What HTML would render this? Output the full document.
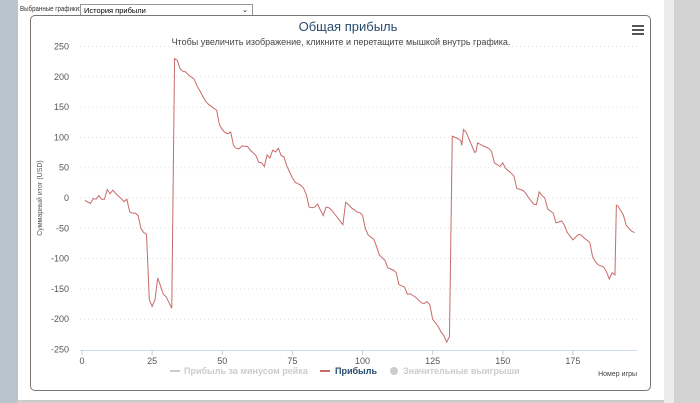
<!DOCTYPE html>
<html><head><meta charset="utf-8"><style>
body{margin:0;width:700px;height:403px;overflow:hidden;background:#d3d3d3;font-family:"Liberation Sans",sans-serif;position:relative}
#left{position:absolute;left:0;top:0;width:18px;height:403px;background:#b9c4cc}
#panel{position:absolute;left:18px;top:0;width:646px;height:400px;background:#fff;box-shadow:2px 0 4px #bbb}
#rb{position:absolute;left:664px;top:0;width:10px;height:403px;background:#ececec}
#lbl{position:absolute;left:2px;top:6px;font-size:7px;color:#333;white-space:nowrap;transform:scaleX(0.88);transform-origin:0 0}
#sel{position:absolute;left:62px;top:4px;width:173px;height:12px;border:1px solid #999;font-size:7.5px;line-height:11px;padding-left:3px;box-sizing:border-box;color:#000}
#box{position:absolute;left:30px;top:15px;width:621px;height:376px;border:1px solid #777;border-radius:5px;box-sizing:border-box}
</style></head><body>
<div id="left"></div>
<div id="panel">
<div id="lbl">Выбранные графики:</div>
<div id="sel">История прибыли<span style="position:absolute;right:4px;top:0;font-size:7px">⌄</span></div>
</div>
<div id="rb"></div>
<div id="box"></div>
<svg id="chart" width="700" height="403" style="position:absolute;left:0;top:0"></svg>
<script>
const games=[1,3,4,5,6,7,8,9,10,11,12.5,14,15,16,17,18,19,20,21,22,23,24,25,26,27,28,29,30,32,33,34,35,36,37,38,40,41,42,44,45,47,48,49,50,51,52,53,54,55,56,57,59,60,62,63,64,65,66,67,68,69,70,71,72,73,75,76,78,79,80,81,82,83,84,85,86,87,88,89,90,92,93,94,95,96,98,99,100,101,102,104,105,106,108,109,111,112,113,115,116,117,119,121,122,123,124,125,127,128,129,130,131,132,134,135,135.4,136,137,138,140,140.5,141,143,145,146,147,149,150,151,153,154,155,157,158,159,161,162,163,164,165,166,168,169,171,172,173,175,177,178,179,181,182,183,184,186,187,188,189,190,190.5,191,193,194,196,197];
const profit=[-4,-9,-1,-2,4,-2,-2,14,7,13,5,-1,-6,-2,-23,-25,-25,-29,-50,-57,-60,-168,-179,-168,-132,-145,-159,-163,-182,230,227,213,209,208,203,196,185,177,160,155,148,145,121,113,108,106,109,87,82,81,86,85,79,70,59,58,52,71,66,79,76,82,70,68,53,33,26,21,16,5,-15,-16,-15,-10,-20,-29,-15,-16,-20,-26,-38,-44,-7,-11,-16,-23,-24,-28,-50,-61,-68,-80,-94,-103,-115,-119,-123,-143,-147,-159,-158,-164,-173,-174,-171,-176,-200,-212,-221,-227,-238,-229,102,98,95,87,113,108,97,75,77,91,86,82,77,58,52,58,49,41,36,16,13,9,2,-10,-11,10,4,0,-18,-25,-41,-38,-45,-57,-69,-60,-61,-66,-73,-96,-105,-110,-114,-122,-134,-123,-127,-12,-13,-28,-45,-55,-57];
const yTicks=[250,200,150,100,50,0,-50,-100,-150,-200,-250];
const xTicks=[0,25,50,75,100,125,150,175];
const svg=document.getElementById('chart');const NS='http://www.w3.org/2000/svg';
const X=v=>82+v*2.805, Y=v=>198-v*0.606;
function mk(t,a,txt){const e=document.createElementNS(NS,t);for(const k in a)e.setAttribute(k,a[k]);if(txt!=null)e.textContent=txt;svg.appendChild(e);return e;}
let e;
e=mk('text',{x:348,y:31,'text-anchor':'middle','font-size':13,fill:'#274b6d'},'Общая прибыль');


e=mk('text',{x:341,y:45,'text-anchor':'middle','font-size':9,fill:'#444'},'Чтобы увеличить изображение, кликните и перетащите мышкой внутрь графика.');


e=mk('g',{});e.innerHTML='<rect x="632" y="25" width="12" height="2" fill="#555"/><rect x="632" y="29" width="12" height="2" fill="#555"/><rect x="632" y="33" width="12" height="2" fill="#555"/>';


yTicks.forEach(v=>{
 if(v!==-250){e=mk('line',{x1:80,x2:637,y1:Y(v),y2:Y(v),stroke:'#ddd','stroke-dasharray':'1,3'});
 
 }
 e=mk('text',{x:69,y:Y(v)+3,'text-anchor':'end','font-size':9,fill:'#555'},String(v));
 
 
});
e=mk('line',{x1:80,x2:637,y1:350.5,y2:350.5,stroke:'#d0dce8'});


xTicks.forEach(v=>{
 e=mk('line',{x1:X(v),x2:X(v),y1:350,y2:355,stroke:'#c0d0e0'});
 
 
 e=mk('text',{x:X(v),y:364,'text-anchor':'middle','font-size':9,fill:'#555'},String(v));
 
 
});
e=mk('text',{transform:'translate(42,198) rotate(-90)','text-anchor':'middle','font-size':7,fill:'#555'},'Суммарный итог (USD)');


e=mk('text',{x:637,y:376,'text-anchor':'end','font-size':7,fill:'#444'},'Номер игры');


e=mk('polyline',{points:games.map((g,i)=>X(g)+','+Y(profit[i])).join(' '),fill:'none',stroke:'#c96a6a','stroke-width':1});


e=mk('g',{});e.innerHTML='<line x1="170" x2="180" y1="371" y2="371" stroke="#ccc" stroke-width="2"/><text x="184" y="374" font-size="9" fill="#ccc" font-weight="bold">Прибыль за минусом рейка</text>';


e=mk('g',{});e.innerHTML='<line x1="320" x2="330" y1="371" y2="371" stroke="#c96a6a" stroke-width="2"/><text x="335" y="374" font-size="9" fill="#274b6d" font-weight="bold">Прибыль</text>';


e=mk('g',{});e.innerHTML='<circle cx="394" cy="371" r="4" fill="#ccc"/><text x="403" y="374" font-size="9" fill="#ccc" font-weight="bold">Значительные выигрыши</text>';


</script>
</body></html>
